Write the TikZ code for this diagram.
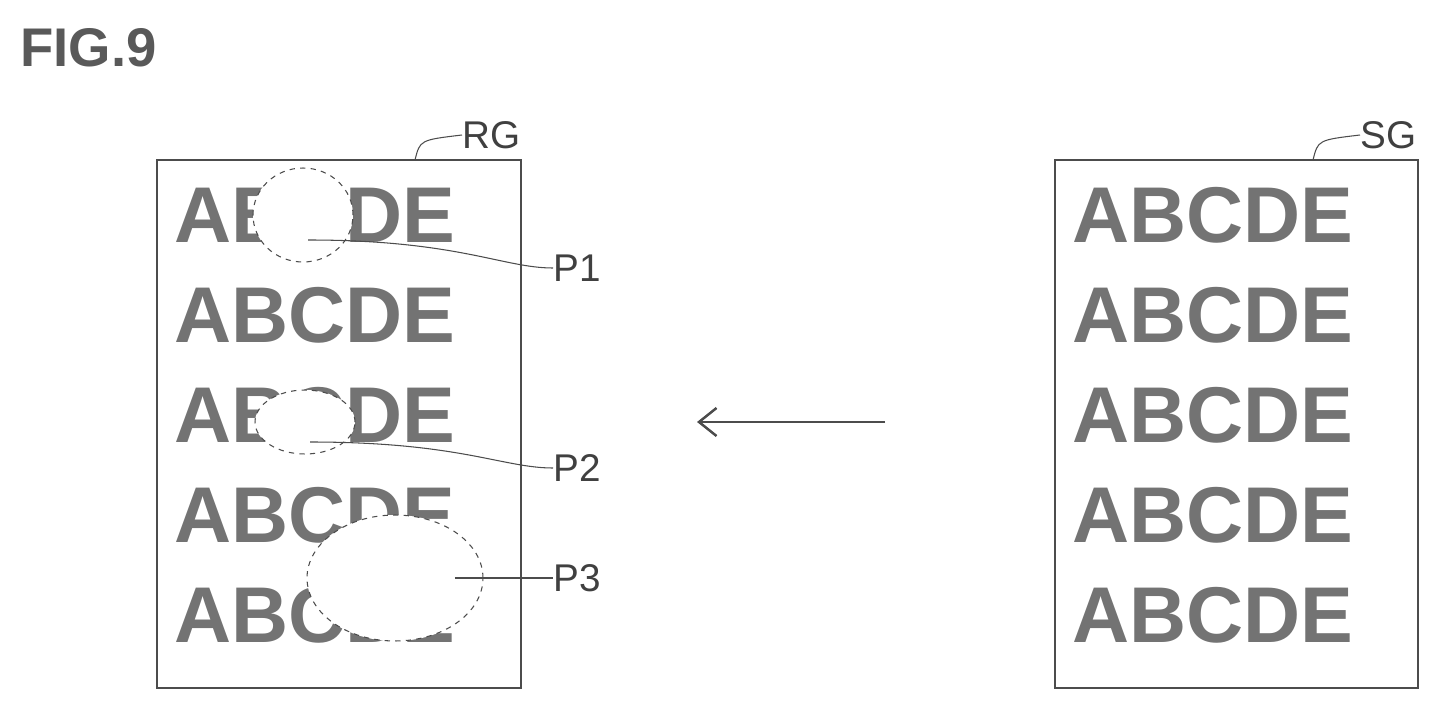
\documentclass[tikz,border=0pt]{standalone}
\usepackage{fontspec}
\setmainfont{Liberation Sans}
\usetikzlibrary{shapes.geometric,arrows.meta}
\tikzstyle{rowtext}=[anchor=west, inner sep=0pt, text=black!55, font=\fontsize{45}{50}\selectfont\bfseries]
\tikzstyle{lbl}=[anchor=west, inner sep=0pt, text=black!75, font=\fontsize{22}{24}\selectfont]
\tikzstyle{spot}=[ellipse, draw=black!70, dashed, fill=white, inner sep=0pt, line width=0.6pt]
\tikzstyle{leader}=[draw=black!70, line width=0.6pt]
\begin{document}
\begin{tikzpicture}[x=0.02cm,y=-0.02cm]
        \useasboundingbox (0,0) rectangle (1440,710);
        \node[anchor=west, inner sep=0pt, text=black!65, font=\fontsize{31}{32}\selectfont\bfseries] at (20,48) (fig) {FIG.9};
        % original sheet
        \draw[black!70, line width=1.2pt] (157,160) rectangle (521,688);
        \foreach \y [count=\i] in {215,315,415,515,615}
            \node[rowtext] at (174,\y) (rg\i) {ABCDE};
        \node[spot, minimum width=2cm, minimum height=1.88cm] at (303,215) (p1) {};
        \node[spot, minimum width=2cm, minimum height=1.28cm] at (305,422) (p2) {};
        \node[spot, minimum width=3.52cm, minimum height=2.52cm] at (395,578) (p3) {};
        \node[lbl] at (553,268) (lp1) {P1};
        \node[lbl] at (553,468) (lp2) {P2};
        \node[lbl] at (553,578) (lp3) {P3};
        \draw[leader] ([xshift=0.1cm,yshift=-0.5cm]p1.center) .. controls ++(3cm,0) and ++(-1cm,0) .. (lp1.west);
        \draw[leader] ([xshift=0.1cm,yshift=-0.4cm]p2.center) .. controls ++(3cm,0) and ++(-1cm,0) .. (lp2.west);
        \draw[leader] ([xshift=1.2cm]p3.center) -- (lp3.west);
        \node[lbl] at (462,135) (rg) {RG};
        \draw[leader] (415,160) .. controls (420,140) .. (rg.west);
        % arrow
        \coordinate (from) at (885,422);
        \coordinate (to) at (697,422);
        \draw[-{Straight Barb[length=10pt,width=16pt]}, black!70, line width=1.4pt] (from) -- (to);
        % reference sheet
        \draw[black!70, line width=1.2pt] (1055,160) rectangle (1418,688);
        \foreach \y [count=\i] in {215,315,415,515,615}
            \node[rowtext] at (1072,\y) (sg\i) {ABCDE};
        \node[lbl] at (1360,135) (sg) {SG};
        \draw[leader] (1313,160) .. controls (1318,140) .. (sg.west);
\end{tikzpicture}
\end{document}
